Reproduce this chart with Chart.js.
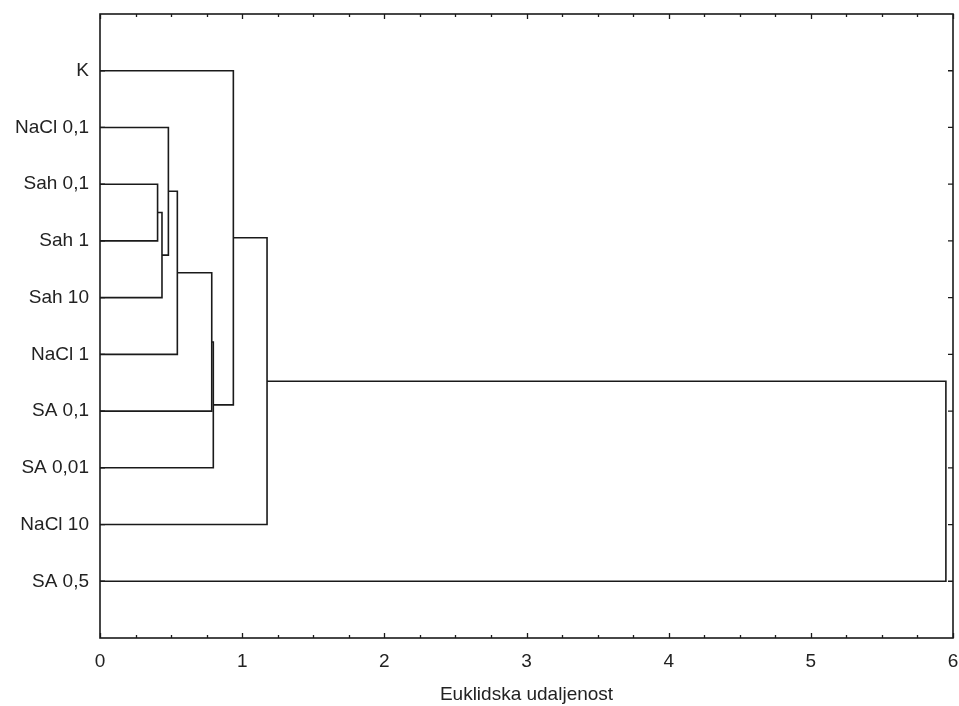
<!DOCTYPE html>
<html><head><meta charset="utf-8">
<script src="https://cdn.jsdelivr.net/npm/chart.js@4"></script>
<style>html,body{margin:0;padding:0;background:#fff}#wrap{width:959px;height:706px}</style>
</head><body><div id="wrap"><canvas id="c" width="959" height="706"></canvas></div>
<script>
// Leaves, top to bottom
const leafLabels = ['K','NaCl 0,1','Sah 0,1','Sah 1','Sah 10','NaCl 1','SA 0,1','SA 0,01','NaCl 10','SA 0,5'];
// Merges: node ids 0..9 are leaves, 10.. are merged clusters in order
const mergeLeft   = [2, 10, 1, 12, 13, 14, 0, 16, 17];
const mergeRight  = [3, 4, 11, 5, 6, 7, 15, 8, 9];
const mergeHeight = [0.405, 0.436, 0.481, 0.544, 0.786, 0.797, 0.938, 1.175, 5.95];
const xTickValues = [0, 1, 2, 3, 4, 5, 6];
const xTitle = 'Euklidska udaljenost';

const pos = leafLabels.map((_, i) => i);
const hgt = leafLabels.map(() => 0);
const datasets = [];
mergeHeight.forEach((h, i) => {
  const l = mergeLeft[i], r = mergeRight[i];
  datasets.push({
    data: [{x: hgt[l], y: pos[l]}, {x: h, y: pos[l]}, {x: h, y: pos[r]}, {x: hgt[r], y: pos[r]}],
    borderColor: '#1a1a1a', borderWidth: 1.6, pointRadius: 0, fill: false, tension: 0
  });
  pos.push((pos[l] + pos[r]) / 2);
  hgt.push(h);
});

const FONT = {family: '"Liberation Sans", Arial, sans-serif', size: 19};
const TXT = '#222';

const noPad = s => { s.paddingTop = 0; s.paddingBottom = 0; s.paddingLeft = 0; s.paddingRight = 0; };

const framePlugin = {
  id: 'frame',
  afterDraw(chart) {
    const {ctx, chartArea: a, scales: {x, y}} = chart;
    ctx.save();
    ctx.strokeStyle = '#1a1a1a';
    ctx.lineWidth = 1.6;
    ctx.strokeRect(a.left, a.top, a.right - a.left, a.bottom - a.top);
    ctx.lineWidth = 1.3;
    ctx.beginPath();
    for (let v = 0; v <= 6.0001; v += 0.25) {
      const px = Math.round(x.getPixelForValue(v)) + 0.5;
      const len = Math.abs(v - Math.round(v)) < 1e-6 ? 5 : 3;
      ctx.moveTo(px, a.bottom); ctx.lineTo(px, a.bottom - len);
      ctx.moveTo(px, a.top); ctx.lineTo(px, a.top + len);
    }
    for (let i = 0; i < leafLabels.length; i++) {
      const py = y.getPixelForValue(i);
      ctx.moveTo(a.left, py); ctx.lineTo(a.left + 5, py);
      ctx.moveTo(a.right, py); ctx.lineTo(a.right - 5, py);
    }
    ctx.stroke();
    ctx.restore();
  }
};

new Chart(document.getElementById('c'), {
  type: 'line',
  data: {datasets},
  options: {
    responsive: false, animation: false, devicePixelRatio: 1,
    layout: {padding: {left: 0, right: 6, top: 14, bottom: 0}},
    plugins: {legend: {display: false}, tooltip: {enabled: false}},
    scales: {
      x: {
        type: 'linear', min: 0, max: 6,
        afterBuildTicks: s => { s.ticks = xTickValues.map(v => ({value: v})); },
        afterFit: s => { s.height = 68; noPad(s); },
        grid: {display: false, drawTicks: false}, border: {display: false},
        ticks: {font: FONT, color: TXT, padding: 12, maxRotation: 0},
        title: {display: true, text: xTitle, font: FONT, color: TXT, padding: {top: 6, bottom: 0}}
      },
      y: {
        type: 'linear', min: -1, max: 10, reverse: true,
        afterBuildTicks: s => { s.ticks = leafLabels.map((_, i) => ({value: i})); },
        afterFit: s => { s.width = 100; noPad(s); },
        grid: {display: false, drawTicks: false}, border: {display: false},
        ticks: {font: FONT, color: TXT, padding: 11, callback: v => leafLabels[v] ?? ''}
      }
    }
  },
  plugins: [framePlugin]
});
</script></body></html>
